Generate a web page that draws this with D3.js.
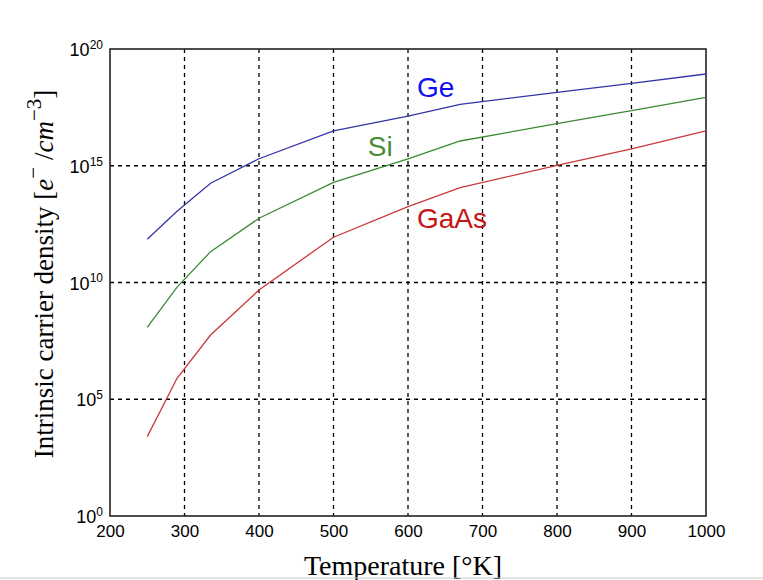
<!DOCTYPE html>
<html>
<head>
<meta charset="utf-8">
<script src="https://cdn.jsdelivr.net/npm/d3@7"></script>
<style>
  body { margin: 0; background: #ffffff; }
  svg { display: block; }
</style>
</head>
<body>
<div id="canvas"></div>
<script>
/* DATA: temperature in K, densities as log10(n) */
const temps = [250, 290, 335, 400, 500, 600, 670, 800, 900, 1000];
const geLog = [11.85, 13.05, 14.25, 15.3, 16.49, 17.13, 17.63, 18.14, 18.53, 18.93];
const siLog = [8.08, 9.8, 11.32, 12.75, 14.29, 15.29, 16.06, 16.8, 17.36, 17.93];
const gaasLog = [3.4, 5.9, 7.75, 9.68, 11.94, 13.25, 14.06, 15.02, 15.72, 16.49];

const xTicks = [200, 300, 400, 500, 600, 700, 800, 900, 1000];
const yTickExps = [0, 5, 10, 15, 20];

const seriesNames = ["Ge", "Si", "GaAs"];
const labelPos = [[612, 17.96], [546, 15.43], [612, 12.32]];

/* CANVAS */
const width = 763;
const height = 580;

const svg = d3.select("#canvas")
    .append("svg")
    .attr("width", width)
    .attr("height", height);

const plotLeft = 110, plotRight = 706, plotTop = 49, plotBottom = 516;

const x = d3.scaleLinear().domain([200, 1000]).range([plotLeft, plotRight]);
const y = d3.scaleLog().domain([1, 1e20]).range([plotBottom, plotTop]);

/* GRID */
svg.append("g")
    .selectAll("line")
    .data(xTicks.slice(1, -1))
    .join("line")
    .attr("x1", d => x(d)).attr("x2", d => x(d))
    .attr("y1", plotTop).attr("y2", plotBottom)
    .attr("stroke", "#000")
    .attr("stroke-width", 1.3)
    .attr("stroke-dasharray", "4,4");

svg.append("g")
    .selectAll("line")
    .data(yTickExps.slice(1, -1))
    .join("line")
    .attr("x1", plotLeft).attr("x2", plotRight)
    .attr("y1", d => y(Math.pow(10, d))).attr("y2", d => y(Math.pow(10, d)))
    .attr("stroke", "#000")
    .attr("stroke-width", 1.3)
    .attr("stroke-dasharray", "4,4");

/* AXES */
const xAxis = svg.append("g")
    .attr("transform", `translate(0,${plotBottom})`)
    .call(d3.axisBottom(x).tickValues(xTicks).tickSize(0).tickPadding(9).tickFormat(d3.format("d")));
xAxis.select(".domain").remove();
xAxis.selectAll("text")
    .attr("font-family", "Liberation Sans, Arial, sans-serif")
    .attr("font-size", 17)
    .attr("fill", "#000");

const yAxis = svg.append("g")
    .attr("transform", `translate(${plotLeft},0)`)
    .call(d3.axisLeft(y).tickValues(yTickExps.map(e => Math.pow(10, e))).tickSize(0).tickPadding(7).tickFormat(""));
yAxis.select(".domain").remove();
yAxis.selectAll(".tick text")
    .attr("font-family", "Liberation Sans, Arial, sans-serif")
    .attr("font-size", 18)
    .attr("fill", "#000")
    .attr("dy", "0.37em")
    .each(function(d) {
        const t = d3.select(this);
        t.append("tspan").text("10");
        t.append("tspan")
            .attr("font-size", 12)
            .attr("dy", "-0.6em")
            .text(Math.round(Math.log10(d)));
    });

/* FRAME */
svg.append("rect")
    .attr("x", plotLeft).attr("y", plotTop)
    .attr("width", plotRight - plotLeft).attr("height", plotBottom - plotTop)
    .attr("fill", "none")
    .attr("stroke", "#222")
    .attr("stroke-width", 1.6);

/* CURVES */
const line = d3.line()
    .x((d, i) => x(temps[i]))
    .y(d => y(Math.pow(10, d)));

const lineColors = ["#3434a8", "#3a8a32", "#c8383a"];
const textColors = ["#1010f0", "#4a8a3a", "#c81414"];

[geLog, siLog, gaasLog].forEach((s, i) => {
    svg.append("path")
        .datum(s)
        .attr("d", line)
        .attr("fill", "none")
        .attr("stroke", lineColors[i])
        .attr("stroke-width", 1.3);
});

svg.append("g")
    .selectAll("text")
    .data(seriesNames)
    .join("text")
    .attr("x", (d, i) => x(labelPos[i][0]))
    .attr("y", (d, i) => y(Math.pow(10, labelPos[i][1])))
    .attr("font-family", "Liberation Sans, Arial, sans-serif")
    .attr("font-size", 28)
    .attr("fill", (d, i) => textColors[i])
    .text(d => d);

/* AXIS TITLES */
svg.append("text")
    .attr("x", 403)
    .attr("y", 575)
    .attr("text-anchor", "middle")
    .attr("font-family", "Liberation Serif, Times New Roman, serif")
    .attr("font-size", 28)
    .text("Temperature [°K]");

const yt = svg.append("text")
    .attr("transform", "translate(53,274) rotate(-90)")
    .attr("text-anchor", "middle")
    .attr("font-family", "Liberation Serif, Times New Roman, serif")
    .attr("font-size", 27);
yt.append("tspan").text("Intrinsic carrier density [");
yt.append("tspan").attr("font-style", "italic").text("e");
yt.append("tspan").attr("font-size", 21).attr("dy", "-0.6em").text("−");
yt.append("tspan").attr("dy", "0.47em").text(" /");
yt.append("tspan").attr("font-style", "italic").text("cm");
yt.append("tspan").attr("font-size", 21).attr("dy", "-0.6em").text("−3");
yt.append("tspan").attr("dy", "0.47em").text("]");

/* PAGE EDGE */
svg.append("line")
    .attr("x1", 0).attr("x2", width)
    .attr("y1", 578).attr("y2", 578)
    .attr("stroke", "#c8c8c8")
    .attr("stroke-width", 1);
</script>
</body>
</html>
